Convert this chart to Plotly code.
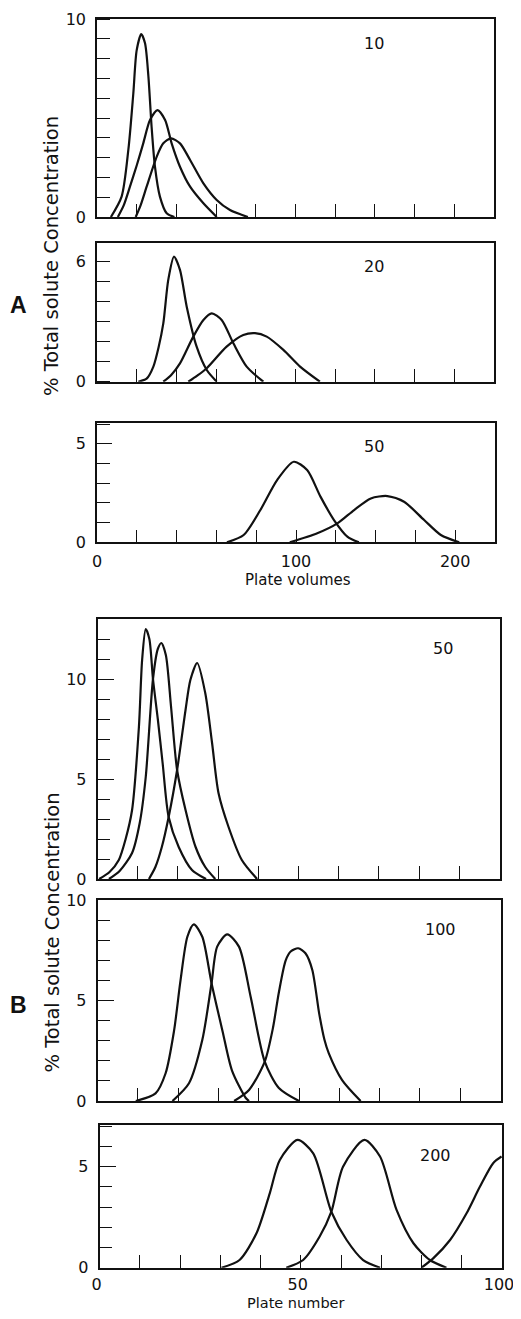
import plotly.graph_objects as go

# page is 521x1319; the browser's default 8px body margin surrounds the figure
PAGE_W, PAGE_H, BODY_MARGIN = 521, 1319, 8
W, H = PAGE_W - 2 * BODY_MARGIN, PAGE_H - 2 * BODY_MARGIN

# ---------------- Panel A data (x = plate volumes, y = % total solute concentration)
a10_x1 = [7, 12.4, 15.8, 18.3, 20, 22.3, 24.2, 25.9, 27.5, 29.2, 31.7, 35.1, 39]
a10_y1 = [0, 1.03, 3.4, 6.25, 8.43, 9.24, 8.77, 7.09, 4.56, 2.54, 1.03, 0.19, 0]
a10_x2 = [10.5, 13.5, 16.6, 20, 23.3, 26.7, 30.5, 34.3, 37.6, 41.8, 46.9, 53.6, 60.3]
a10_y2 = [0, 0.6, 1.53, 2.6, 3.72, 4.9, 5.4, 4.9, 3.72, 2.54, 1.53, 0.69, 0]
a10_x3 = [19.5, 22, 25, 30.1, 33.4, 37.3, 41.8, 46.9, 53.6, 60.3, 67, 76]
a10_y3 = [0, 0.6, 1.53, 3.05, 3.72, 3.97, 3.72, 2.88, 1.7, 0.86, 0.35, 0]

a20_x1 = [20.8, 25, 28.4, 31, 33.4, 35.9, 38.8, 41.8, 45.2, 50.2, 55.3, 60.3]
a20_y1 = [0, 0.15, 0.75, 1.7, 2.9, 5.06, 6.22, 5.56, 3.73, 1.74, 0.58, 0]
a20_x2 = [33.4, 37.5, 41.8, 48.5, 53.6, 57.8, 62.8, 68.7, 75.4, 83.8]
a20_y2 = [0, 0.35, 0.91, 2.24, 3.07, 3.4, 3.07, 1.91, 0.75, 0]
a20_x3 = [46, 50.5, 55.3, 65.3, 73.7, 79.6, 85.5, 93.9, 102.3, 112.3]
a20_y3 = [0, 0.3, 0.67, 1.74, 2.32, 2.41, 2.24, 1.58, 0.75, 0]

a50_x1 = [65.3, 73.7, 82.1, 90.5, 98.9, 105.6, 112.3, 119.1, 125.8, 131.6]
a50_y1 = [0, 0.37, 1.64, 3.16, 4.09, 3.67, 2.32, 1.13, 0.29, 0]
a50_x2 = [96.9, 110.7, 120.8, 129.2, 137.6, 145.9, 154.3, 164.4, 172.8, 182]
a50_y2 = [0, 0.46, 0.96, 1.64, 2.23, 2.35, 2.06, 1.13, 0.37, 0]

# ---------------- Panel B data (x = plate number)
b50_x1 = [0.4, 3, 5.3, 7, 8.6, 10.3, 11.1, 12, 12.9, 13.8, 15, 16.2, 17.7, 20.2, 23.5, 27]
b50_y1 = [0, 0.35, 0.95, 2.0, 3.45, 7.6, 10.95, 12.5, 12.0, 10.0, 8.0, 5.8, 3.1, 1.6, 0.45, 0]
b50_x2 = [2.85, 5.5, 8.6, 10.5, 12, 13.8, 15, 15.9, 17, 18.3, 19.8, 21.9, 24.4, 26.8, 29.3]
b50_y2 = [0, 0.4, 1.3, 2.8, 5.1, 10.0, 11.5, 11.8, 11.2, 8.6, 5.45, 3.45, 1.6, 0.6, 0]
b50_x3 = [12.8, 14.4, 16, 17.7, 19.8, 21.9, 23.1, 24.8, 26.8, 28.5, 30.1, 32.6, 35.9, 39.7]
b50_y3 = [0, 0.6, 1.6, 3.1, 5.45, 8.45, 9.95, 10.8, 9.3, 6.8, 4.3, 2.6, 0.95, 0]

b100_x1 = [9.5, 14.4, 16.9, 19, 20.6, 22.3, 23.9, 26, 28.3, 31, 33.4, 36.8, 37.6]
b100_y1 = [0, 0.38, 1.38, 3.5, 6.0, 8.17, 8.79, 8.17, 5.86, 3.5, 1.5, 0.15, 0]
b100_x2 = [18.6, 22.7, 26, 28.3, 29.7, 32.2, 35.1, 38, 41.5, 45, 50]
b100_y2 = [0, 0.88, 3.03, 5.86, 7.68, 8.29, 7.68, 5.19, 1.96, 0.65, 0]
b100_x3 = [33.9, 37.6, 41.5, 43.5, 45, 46.7, 48, 49.8, 51.6, 53.3, 55, 56.3, 57.4, 60.7, 65.3]
b100_y3 = [0, 0.55, 1.96, 3.6, 5.4, 7.0, 7.45, 7.6, 7.35, 6.52, 4.36, 3.06, 2.37, 1.04, 0]

b200_x1 = [30.3, 34.8, 39, 42.3, 44.8, 49.2, 53.1, 57.6, 61.4, 65.5, 69.7]
b200_y1 = [0, 0.38, 1.7, 3.68, 5.33, 6.32, 5.66, 2.77, 1.37, 0.38, 0]
b200_x2 = [46.4, 50.6, 54.7, 57.6, 60.5, 65.8, 69.7, 73.8, 78, 82.1, 86.2]
b200_y2 = [0, 0.38, 1.54, 2.77, 5.0, 6.32, 5.5, 2.86, 1.21, 0.38, 0]
b200_x3 = [80, 82.9, 87.1, 91.2, 94.5, 97.8, 99.9]
b200_y3 = [0, 0.46, 1.37, 2.69, 4.0, 5.17, 5.5]

# tick labels
a_xtick_vals = [0, 100, 180]
a_xtick_text = ["0", "100", "200"]
b_xtick_vals = [0, 50, 100]
b_xtick_text = ["0", "50", "100"]

panel_labels = ["10", "20", "50", "50", "100", "200"]
x_titles = ["Plate volumes", "Plate number"]
y_title = "% Total solute Concentration"

FONT = "DejaVu Sans"
INK = "#111111"


def px_x(p):
    return (p - BODY_MARGIN) / W


def px_y(p):
    return 1 - (p - BODY_MARGIN) / H


panels = [
    dict(l=97, r=494, t=19, b=217, xr=[0, 200], yr=[0, 10], yv=[0, 10], yt=["0", "10"], ymaj=0, xd=20, xv=a_xtick_vals, xt=a_xtick_text, showx=False),
    dict(l=97, r=494, t=243.3, b=381.7, xr=[0, 200], yr=[0, 6.88], yv=[0, 6], yt=["0", "6"], ymaj=0, xd=20, xv=a_xtick_vals, xt=a_xtick_text, showx=False),
    dict(l=97, r=495, t=423, b=542.3, xr=[0, 200], yr=[0, 6.06], yv=[0, 5], yt=["0", "5"], ymaj=15, xd=20, xv=a_xtick_vals, xt=a_xtick_text, showx=True, shift=0, stand=4),
    dict(l=97.5, r=499.5, t=619, b=879, xr=[0, 100], yr=[0, 13], yv=[0, 5, 10], yt=["0", "5", "10"], ymaj=17, xd=10, xv=b_xtick_vals, xt=b_xtick_text, showx=False),
    dict(l=97.5, r=500.5, t=900, b=1101, xr=[0, 100], yr=[0, 10], yv=[0, 5, 10], yt=["0", "5", "10"], ymaj=17, xd=10, xv=b_xtick_vals, xt=b_xtick_text, showx=False),
    dict(l=99.5, r=502, t=1125, b=1267.7, xr=[0, 100], yr=[0, 7.06], yv=[0, 5], yt=["0", "5"], ymaj=17, xd=10, xv=b_xtick_vals, xt=b_xtick_text, showx=True, shift=-3, stand=1),
]

curves = [
    [(a10_x1, a10_y1), (a10_x2, a10_y2), (a10_x3, a10_y3)],
    [(a20_x1, a20_y1), (a20_x2, a20_y2), (a20_x3, a20_y3)],
    [(a50_x1, a50_y1), (a50_x2, a50_y2)],
    [(b50_x1, b50_y1), (b50_x2, b50_y2), (b50_x3, b50_y3)],
    [(b100_x1, b100_y1), (b100_x2, b100_y2), (b100_x3, b100_y3)],
    [(b200_x1, b200_y1), (b200_x2, b200_y2), (b200_x3, b200_y3)],
]

fig = go.Figure()
layout = dict(
    width=W, height=H, margin=dict(l=0, r=0, t=0, b=0, pad=0, autoexpand=False),
    paper_bgcolor="white", plot_bgcolor="white", showlegend=False,
    font=dict(family=FONT, size=16, color=INK),
)

for i, (p, cs) in enumerate(zip(panels, curves)):
    n = "" if i == 0 else str(i + 1)
    xa, ya = "x" + n, "y" + n
    for cx, cy in cs:
        fig.add_trace(go.Scatter(x=cx, y=cy, xaxis=xa, yaxis=ya, mode="lines",
                                 line=dict(color=INK, width=2.2, shape="spline", smoothing=0.75),
                                 hoverinfo="skip"))
    xaxis = dict(
        domain=[px_x(p["l"]), px_x(p["r"])], range=p["xr"], anchor=ya, automargin=False,
        showline=True, mirror=True, linecolor=INK, linewidth=1.6,
        showgrid=False, zeroline=False,
        tickmode="array", tickvals=p["xv"], ticktext=p["xt"],
        ticks="inside", ticklen=13, tickwidth=1.3, tickcolor=INK,
        minor=dict(ticks="inside", ticklen=13, tickwidth=1.3, tickcolor=INK, dtick=p["xd"], showgrid=False),
        showticklabels=p["showx"], ticklabelstandoff=p.get("stand", 4),
        ticklabeloverflow="allow", ticklabelshift=p.get("shift", 0),
        tickfont=dict(family=FONT, size=16, color=INK),
        fixedrange=True,
    )
    yaxis = dict(
        domain=[px_y(p["b"]), px_y(p["t"])], range=p["yr"], anchor=xa, automargin=False,
        showline=True, mirror=True, linecolor=INK, linewidth=1.6,
        showgrid=False, zeroline=False,
        tickmode="array", tickvals=p["yv"], ticktext=p["yt"],
        ticks="inside" if p["ymaj"] else "", ticklen=p["ymaj"] or 1, tickwidth=1.3, tickcolor=INK,
        minor=dict(ticks="inside", ticklen=13, tickwidth=1.3, tickcolor=INK, dtick=1, showgrid=False),
        ticklabelstandoff=6, ticklabeloverflow="allow",
        tickfont=dict(family=FONT, size=16, color=INK),
        fixedrange=True,
    )
    layout["xaxis" + n] = xaxis
    layout["yaxis" + n] = yaxis

label_pos = [(374, 43.3), (374, 266.7), (374, 446.7), (443.3, 648.3), (440, 929.3), (435, 1155)]
annotations = []
for txt, (ax, ay) in zip(panel_labels, label_pos):
    annotations.append(dict(text=txt, x=px_x(ax), y=px_y(ay), xref="paper", yref="paper",
                            xanchor="center", yanchor="middle", showarrow=False,
                            font=dict(family=FONT, size=16, color=INK)))
for txt, (ax, ay), fs in zip(x_titles, [(297.5, 580), (295.7, 1302.5)], [15, 14.5]):
    annotations.append(dict(text=txt, x=px_x(ax), y=px_y(ay), xref="paper", yref="paper",
                            xanchor="center", yanchor="middle", showarrow=False,
                            font=dict(family=FONT, size=fs, color=INK)))
for letter, (ax, ay) in [("A", (18.5, 305)), ("B", (18.5, 1005))]:
    annotations.append(dict(text="<b>" + letter + "</b>", x=px_x(ax), y=px_y(ay), xref="paper", yref="paper",
                            xanchor="center", yanchor="middle", showarrow=False,
                            font=dict(family="Liberation Sans", size=23, color=INK)))
for (ax, ay) in [(51.5, 256.5), (51.5, 933)]:
    annotations.append(dict(text=y_title, x=px_x(ax), y=px_y(ay), xref="paper", yref="paper",
                            xanchor="center", yanchor="middle", showarrow=False, textangle=-90,
                            font=dict(family=FONT, size=19.5, color=INK)))
layout["annotations"] = annotations

fig.update_layout(**layout)
fig.write_html("out.html", config={"displayModeBar": False})
